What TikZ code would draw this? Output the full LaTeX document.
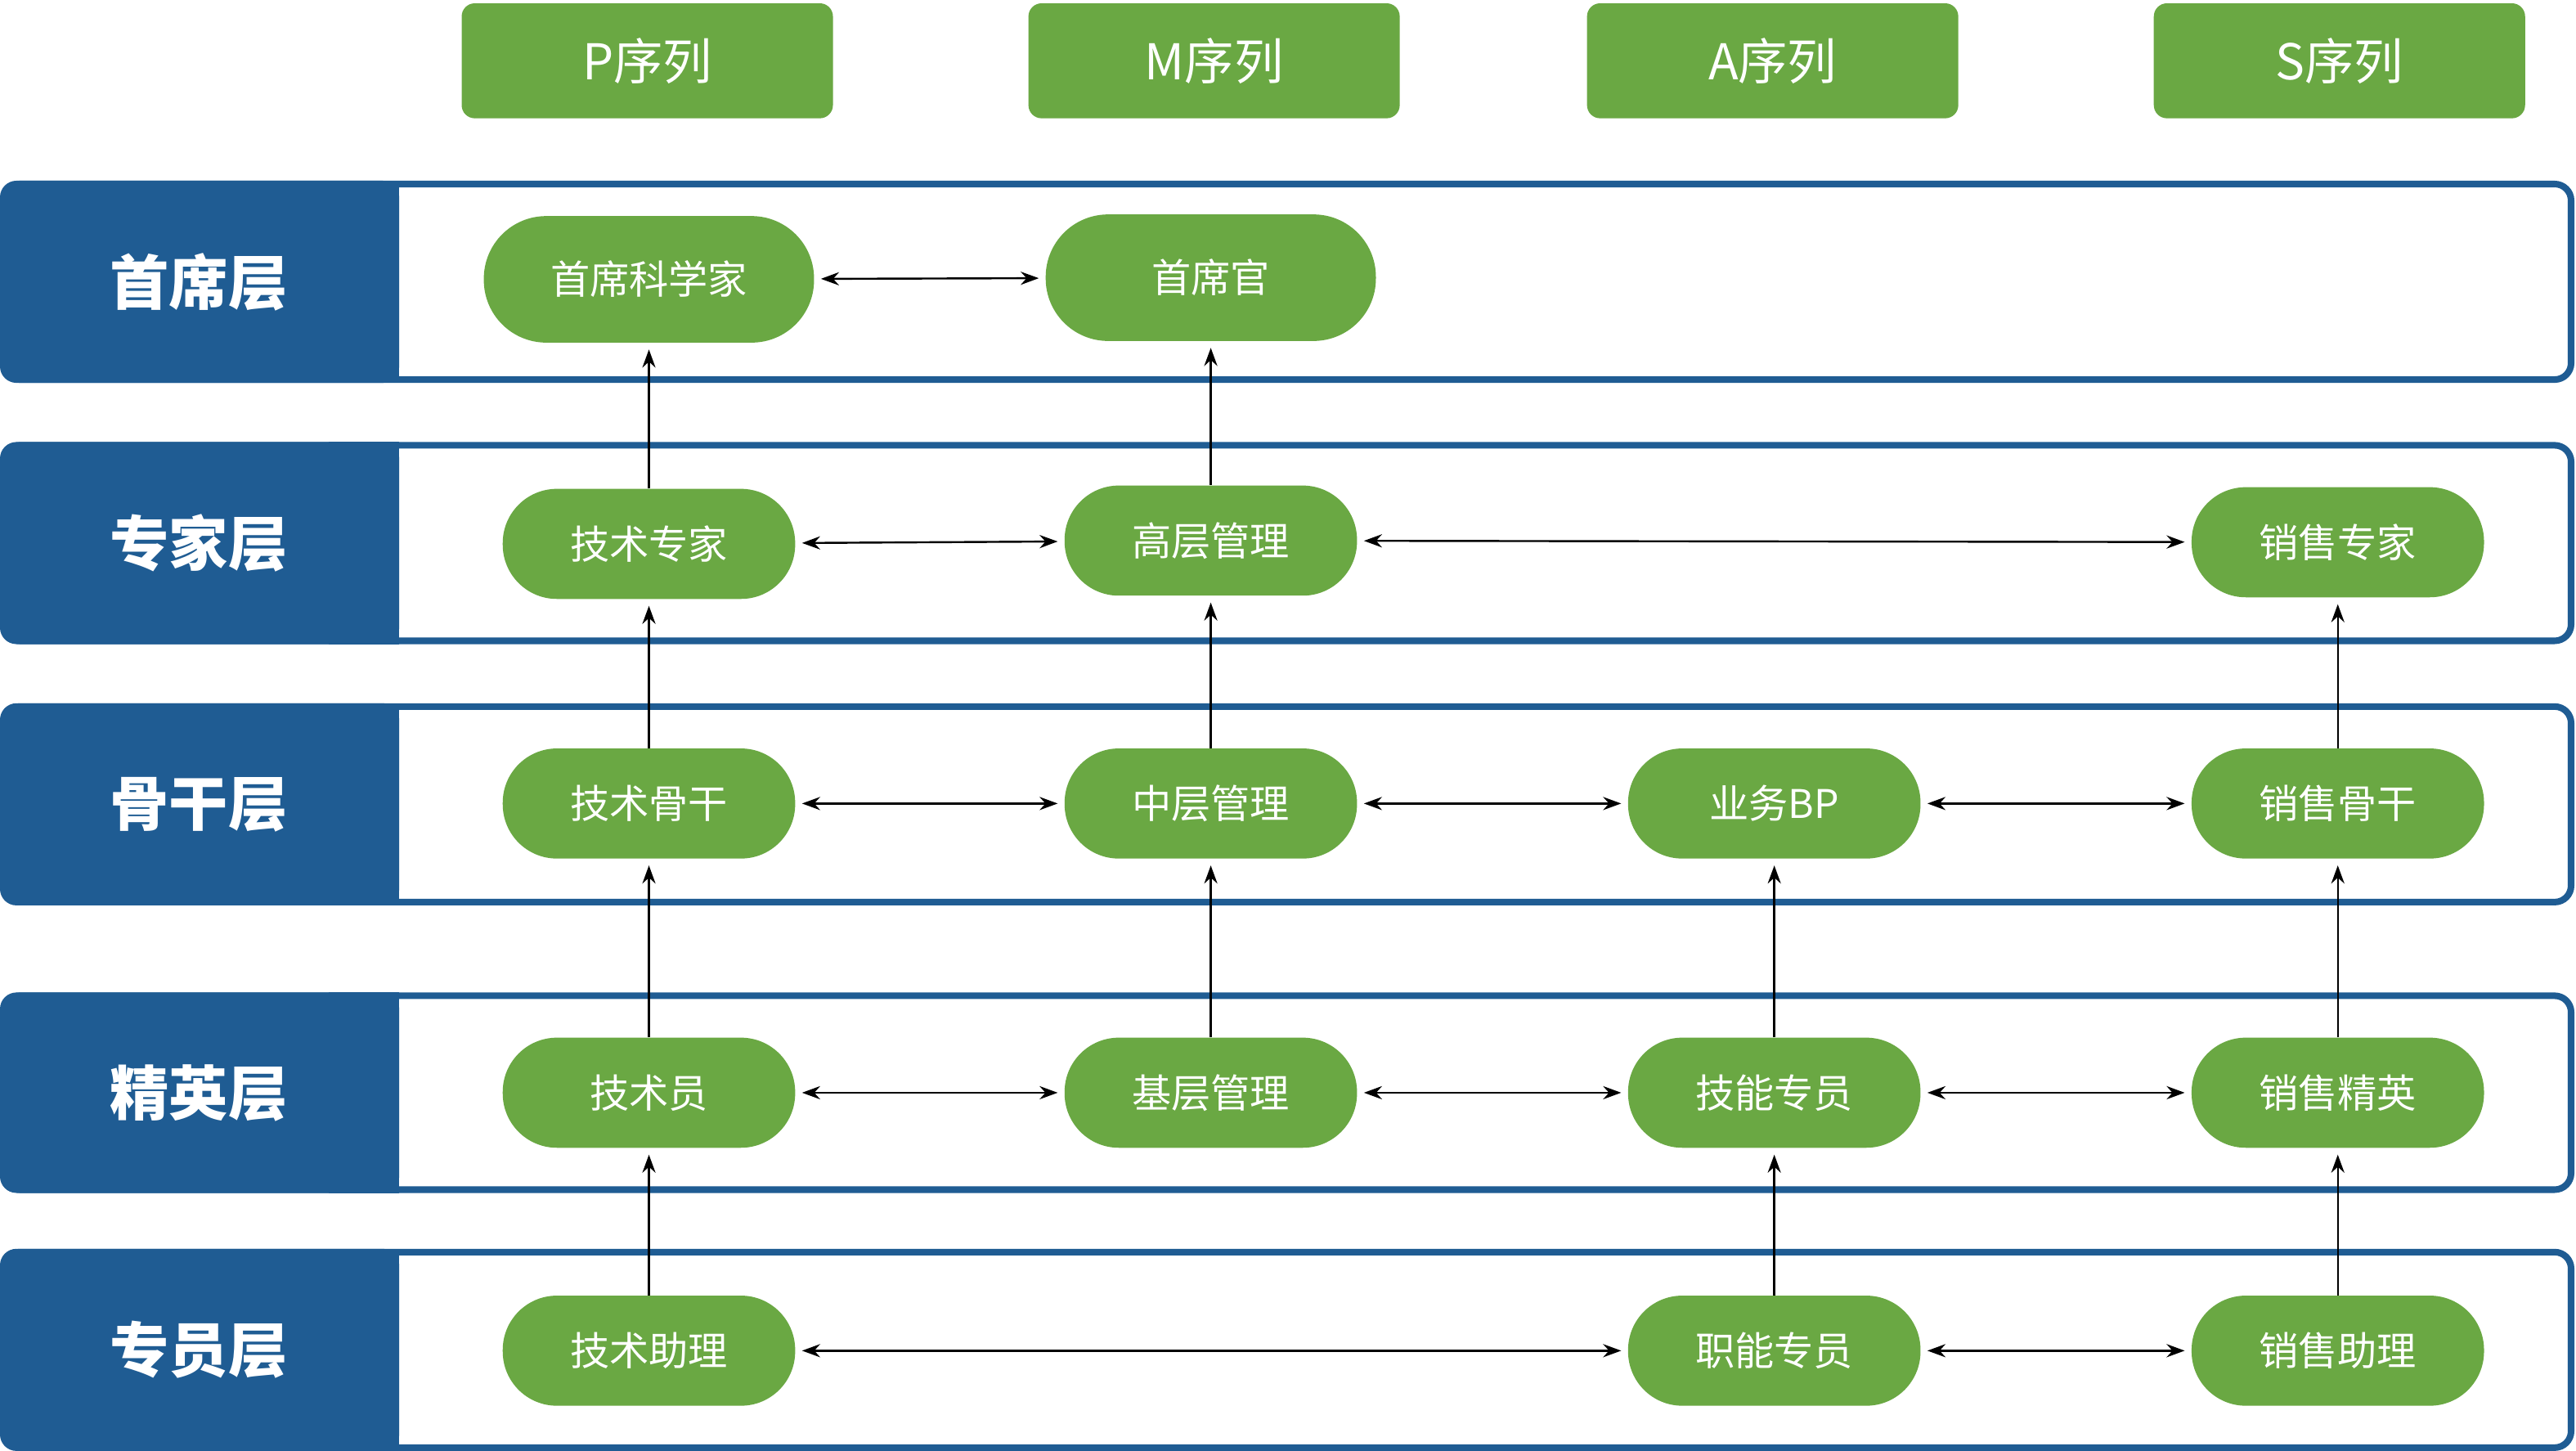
\documentclass[tikz,border=0pt]{standalone}
\usepackage{fontspec}
\setmainfont{Noto Sans CJK SC}
\usetikzlibrary{arrows.meta}
\definecolor{leafgreen}{HTML}{6AA843}
\definecolor{bandblue}{HTML}{1F5C93}

\begin{document}
\begin{tikzpicture}[x=1pt,y=-1pt,
				seqnode/.style={rectangle, rounded corners=8pt, fill=leafgreen, text=white, minimum width=226pt, minimum height=70pt, font=\fontsize{30}{32}\selectfont},
				jobnode/.style={rectangle, rounded corners=33pt, fill=leafgreen, text=white, minimum width=178pt, minimum height=67pt, font=\fontsize{24}{26}\selectfont},
				topnode/.style={jobnode, rounded corners=38pt, minimum width=201pt, minimum height=77pt},
				layerlabel/.style={text=white, font=\bfseries\fontsize{36}{38}\selectfont},
				link/.style={-{Stealth[length=11pt,width=8pt]}, line width=1.2pt, shorten >=4pt, shorten <=4pt},
				twoway/.style={link, {Stealth[length=11pt,width=8pt]}-{Stealth[length=11pt,width=8pt]}},
				]
				\useasboundingbox (0,0) rectangle (1568,883);
				%Sequence headers
				\node[seqnode](seqP) at (394,37){P序列};
				\node[seqnode](seqM) at (739,37){M序列};
				\node[seqnode](seqA) at (1079,37){A序列};
				\node[seqnode](seqS) at (1424,37){S序列};
				
				%Layer bands
				\foreach \top/\bot/\name in {112/231/首席层, 271/390/专家层, 430/549/骨干层, 606/724/精英层, 762/881/专员层}{
					\draw[bandblue, line width=4pt, fill=white, rounded corners=10pt] (2,\top) rectangle (1565,\bot);
					\fill[bandblue, rounded corners=10pt] (0,\top-2) rectangle (243,\bot+2);
					\fill[bandblue] (200,\top-2) rectangle (243,\bot+2);
					\node[layerlabel] at (121,{(\top+\bot)/2}) {\name};
				}
				
				%Nodes
				\node[topnode](chiefP) at (395,170){首席科学家};
				\node[topnode](chiefM) at (737,169){首席官};
				\node[jobnode](expP) at (395,331){技术专家};
				\node[jobnode](expM) at (737,329){高层管理};
				\node[jobnode](expS) at (1423,330){销售专家};
				\node[jobnode](coreP) at (395,489){技术骨干};
				\node[jobnode](coreM) at (737,489){中层管理};
				\node[jobnode](coreA) at (1080,489){业务BP};
				\node[jobnode](coreS) at (1423,489){销售骨干};
				\node[jobnode](eliteP) at (395,665){技术员};
				\node[jobnode](eliteM) at (737,665){基层管理};
				\node[jobnode](eliteA) at (1080,665){技能专员};
				\node[jobnode](eliteS) at (1423,665){销售精英};
				\node[jobnode](staffP) at (395,822){技术助理};
				\node[jobnode](staffA) at (1080,822){职能专员};
				\node[jobnode](staffS) at (1423,822){销售助理};
				
				%Lines
				\draw[twoway] (chiefP) -- (chiefM);
				\draw[twoway] (expP) -- (expM);
				\draw[twoway] (expM) -- (expS);
				\draw[twoway] (coreP) -- (coreM);
				\draw[twoway] (coreM) -- (coreA);
				\draw[twoway] (coreA) -- (coreS);
				\draw[twoway] (eliteP) -- (eliteM);
				\draw[twoway] (eliteM) -- (eliteA);
				\draw[twoway] (eliteA) -- (eliteS);
				\draw[twoway] (staffP) -- (staffA);
				\draw[twoway] (staffA) -- (staffS);
				
				\draw[link, shorten <=0pt] (expP.north) -- (chiefP.south);
				\draw[link, shorten <=0pt] (coreP.north) -- (expP.south);
				\draw[link, shorten <=0pt] (eliteP.north) -- (coreP.south);
				\draw[link, shorten <=0pt] (staffP.north) -- (eliteP.south);
				\draw[link, shorten <=0pt] (expM.north) -- (chiefM.south);
				\draw[link, shorten <=0pt] (coreM.north) -- (expM.south);
				\draw[link, shorten <=0pt] (eliteM.north) -- (coreM.south);
				\draw[link, shorten <=0pt] (eliteA.north) -- (coreA.south);
				\draw[link, shorten <=0pt] (staffA.north) -- (eliteA.south);
				\draw[link, shorten <=0pt] (coreS.north) -- (expS.south);
				\draw[link, shorten <=0pt] (eliteS.north) -- (coreS.south);
				\draw[link, shorten <=0pt] (staffS.north) -- (eliteS.south);
				
			\end{tikzpicture}
\end{document}
